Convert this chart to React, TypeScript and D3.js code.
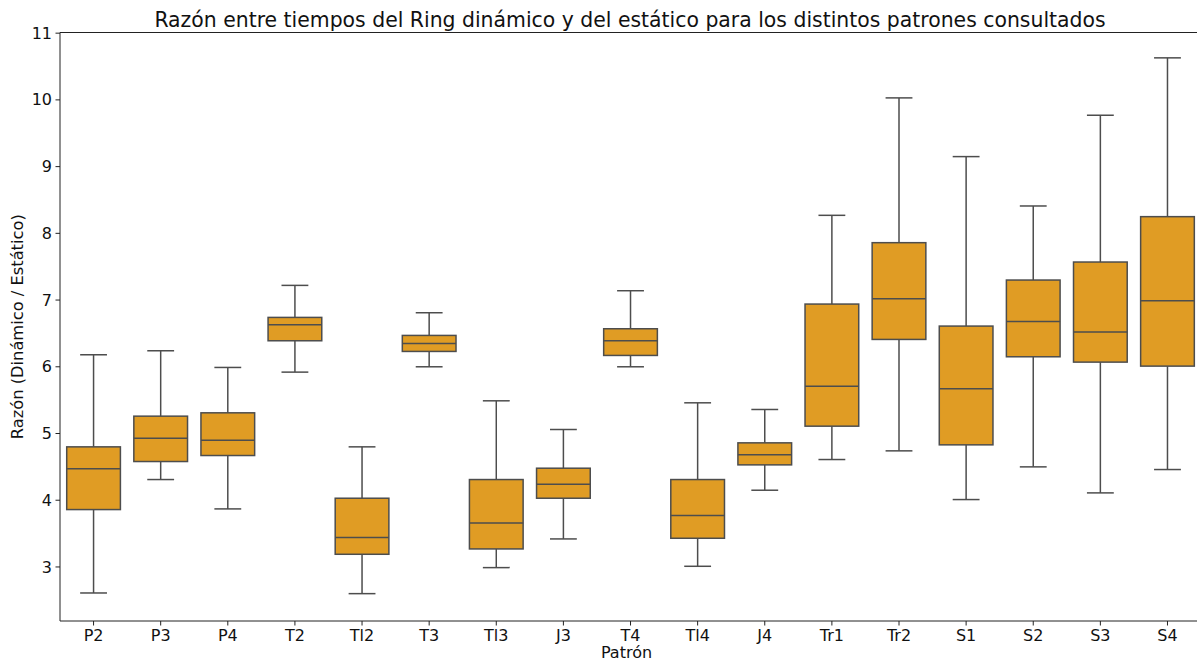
import React from "react";
import * as d3 from "d3";

const categories = ["P2","P3","P4","T2","Tl2","T3","Tl3","J3","T4","Tl4","J4","Tr1","Tr2","S1","S2","S3","S4"];
const whiskerLow = [2.61,4.31,3.87,5.92,2.60,6.00,2.99,3.42,6.00,3.01,4.15,4.61,4.74,4.01,4.50,4.11,4.46];
const q1 =         [3.86,4.58,4.67,6.39,3.19,6.23,3.27,4.03,6.17,3.43,4.53,5.11,6.41,4.83,6.15,6.07,6.01];
const median =     [4.47,4.93,4.90,6.63,3.44,6.35,3.66,4.24,6.39,3.77,4.68,5.71,7.02,5.67,6.68,6.52,6.99];
const q3 =         [4.80,5.26,5.31,6.74,4.03,6.47,4.31,4.48,6.57,4.31,4.86,6.94,7.86,6.61,7.30,7.57,8.25];
const whiskerHigh =[6.18,6.24,5.99,7.22,4.80,6.81,5.49,5.06,7.14,5.46,5.36,8.27,10.03,9.15,8.41,9.77,10.63];
const yTicks = [3,4,5,6,7,8,9,10,11];

const W = 1197, H = 662;
const left = 60, top = 32.5, bottom = 621;
const band = 67.12;
const right = left + band * categories.length;
const FONT = "DejaVu Sans, Verdana, sans-serif";
const FILL = "#e09c24";
const LINE = "#4d4d4d";

export default function App() {
  const x = d3.scaleBand<string>().domain(categories).range([left, right]).paddingInner(0).paddingOuter(0);
  const y = d3.scaleLinear().domain([2.19, 11.01]).range([bottom, top]);
  const bw = x.bandwidth() * 0.8;
  const capW = bw * 0.5;
  return (
    <svg width={W} height={H} style={{ position: "absolute", left: 0, top: 0, background: "#fff" }} fontFamily={FONT}>
      <rect x={0} y={0} width={W} height={H} fill="#fff" />
      {categories.map((c, i) => {
        const cx = x(c)! + x.bandwidth() / 2;
        return (
          <g key={c}>
            <line x1={cx} x2={cx} y1={y(q3[i])} y2={y(whiskerHigh[i])} stroke={LINE} strokeWidth={1.5} />
            <line x1={cx} x2={cx} y1={y(q1[i])} y2={y(whiskerLow[i])} stroke={LINE} strokeWidth={1.5} />
            <line x1={cx - capW / 2} x2={cx + capW / 2} y1={y(whiskerHigh[i])} y2={y(whiskerHigh[i])} stroke={LINE} strokeWidth={1.5} />
            <line x1={cx - capW / 2} x2={cx + capW / 2} y1={y(whiskerLow[i])} y2={y(whiskerLow[i])} stroke={LINE} strokeWidth={1.5} />
            <rect x={cx - bw / 2} y={y(q3[i])} width={bw} height={y(q1[i]) - y(q3[i])} fill={FILL} stroke={LINE} strokeWidth={1.5} />
            <line x1={cx - bw / 2} x2={cx + bw / 2} y1={y(median[i])} y2={y(median[i])} stroke={LINE} strokeWidth={1.5} />
          </g>
        );
      })}
      {/* spines */}
      <line x1={left} x2={left} y1={top} y2={bottom} stroke="#222" strokeWidth={1} />
      <line x1={left} x2={right} y1={bottom} y2={bottom} stroke="#222" strokeWidth={1} />
      <line x1={left} x2={right} y1={top} y2={top} stroke="#222" strokeWidth={1} />
      <line x1={right} x2={right} y1={top} y2={bottom} stroke="#222" strokeWidth={1} />
      {/* y ticks */}
      {yTicks.map((t) => (
        <g key={t}>
          <line x1={left - 4.5} x2={left} y1={y(t)} y2={y(t)} stroke="#222" strokeWidth={1} />
          <text x={left - 8} y={y(t)} dy="0.35em" textAnchor="end" fontSize={16} fill="#111">{t}</text>
        </g>
      ))}
      {/* x ticks */}
      {categories.map((c) => {
        const cx = x(c)! + x.bandwidth() / 2;
        return (
          <g key={"t" + c}>
            <line x1={cx} x2={cx} y1={bottom} y2={bottom + 4.5} stroke="#222" strokeWidth={1} />
            <text x={cx} y={bottom + 20} textAnchor="middle" fontSize={16} fill="#111">{c}</text>
          </g>
        );
      })}
      <text x={(left + right) / 2 - 4} y={658} textAnchor="middle" fontSize={16} fill="#111">Patrón</text>
      <text transform={`translate(23, ${(top + bottom) / 2}) rotate(-90)`} textAnchor="middle" fontSize={16.3} fill="#111">Razón (Dinámico / Estático)</text>
      <text x={630} y={27} textAnchor="middle" fontSize={20.4} fill="#111">Razón entre tiempos del Ring dinámico y del estático para los distintos patrones consultados</text>
    </svg>
  );
}
